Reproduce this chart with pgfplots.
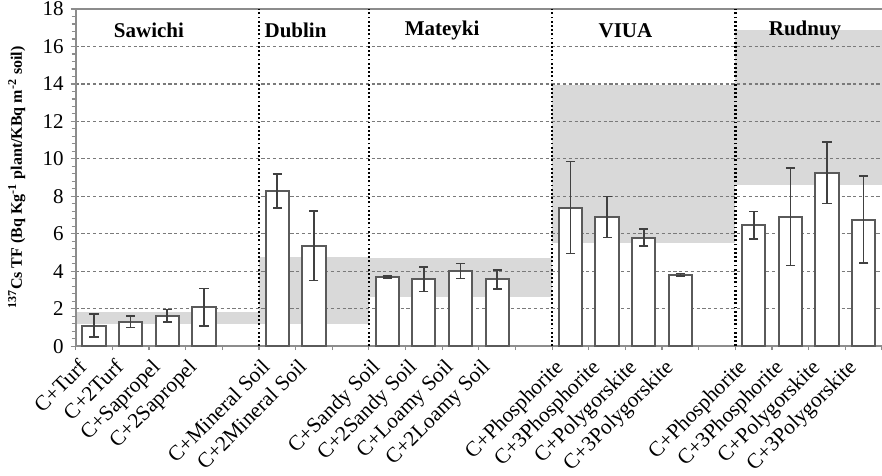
\documentclass[border=0pt]{standalone}
\usepackage{pgfplots}
\pgfplotsset{compat=1.18}
\usepackage{fontspec}
\setmainfont{Liberation Serif}
\definecolor{bandgray}{HTML}{D9D9D9}
\definecolor{gridgray}{HTML}{7A7A7A}
\definecolor{bargray}{HTML}{5A5A5A}
\definecolor{axisgray}{HTML}{8C8C8C}
\begin{document}
\begin{tikzpicture}
\begin{axis}[
  set layers,
  scale only axis,
  width=403pt, height=168.5pt,
  xmin=-0.5, xmax=21.5, ymin=0, ymax=18,
  axis x line*=box, axis y line*=left,
  axis line style={axisgray, line width=1pt},
  xtick={0,1,2,3,5,6,8,9,10,11,13,14,15,16,18,19,20,21},
  xticklabels={C+Turf,C+2Turf,C+Sapropel,C+2Sapropel,C+Mineral Soil,C+2Mineral Soil,C+Sandy Soil,C+2Sandy Soil,C+Loamy Soil,C+2Loamy Soil,C+Phosphorite,C+3Phosphorite,C+Polygorskite,C+3Polygorskite,C+Phosphorite,C+3Phosphorite,C+Polygorskite,C+3Polygorskite},
  minor xtick={-0.5,0.5,...,21.5},
  xtick pos=bottom, ytick pos=left,
  major x tick style={draw=none},
  tick align=outside,
  minor tick length=2pt, major tick length=2.5pt,
  every tick/.style={axisgray, line width=0.6pt},
  x tick label style={xshift=-3pt, yshift=-8.5pt, rotate=45, anchor=base east, font=\fontsize{10.7}{12}\selectfont, inner sep=0pt},
  ytick={0,2,...,18},
  minor y tick num=4,
  y tick label style={font=\fontsize{10.5}{12}\selectfont},
  /pgf/number format/assume math mode=true,
  ymajorgrids,
  major grid style={gridgray, line width=0.6pt, dash pattern=on 1.6pt off 1.3pt},
  ylabel={\textbf{\textsuperscript{137}Cs TF (Bq Kg\textsuperscript{-1} plant/KBq m\textsuperscript{-2} soil)}},
  ylabel style={at={(axis description cs:-0.073,0.5)}, anchor=center, font=\fontsize{8}{10}\selectfont},
  clip=false,
]
% grey bands
\addplot[fill=bandgray, draw=none, on layer=axis background] coordinates {(-0.5,1.2) (4.5,1.2) (4.5,1.8) (-0.5,1.8)} -- cycle;
\addplot[fill=bandgray, draw=none, on layer=axis background] coordinates {(4.5,1.2) (7.5,1.2) (7.5,4.75) (4.5,4.75)} -- cycle;
\addplot[fill=bandgray, draw=none, on layer=axis background] coordinates {(7.5,2.65) (12.5,2.65) (12.5,4.7) (7.5,4.7)} -- cycle;
\addplot[fill=bandgray, draw=none, on layer=axis background] coordinates {(12.5,5.5) (17.5,5.5) (17.5,13.95) (12.5,13.95)} -- cycle;
\addplot[fill=bandgray, draw=none, on layer=axis background] coordinates {(17.5,8.6) (21.5,8.6) (21.5,16.9) (17.5,16.9)} -- cycle;
% bars
\addplot[ybar, bar width=0.635, fill=white, draw=bargray, line width=1pt,
  error bars/.cd, y dir=both, y explicit,
  error bar style={color=black!75, line width=0.8pt},
  error mark options={rotate=90, mark size=2.3pt, line width=0.8pt, black!75}]
  coordinates {
  (0,1.1) +- (0,0.62)
  (1,1.3) +- (0,0.3)
  (2,1.63) +- (0,0.33)
  (3,2.07) +- (0,1.0)
  (5,8.28) +- (0,0.9)
  (6,5.35) +- (0,1.85)
  (8,3.7) +- (0,0.05)
  (9,3.56) +- (0,0.65)
  (10,4.02) +- (0,0.4)
  (11,3.56) +- (0,0.5)
  (13,7.4) +- (0,2.45)
  (14,6.9) +- (0,1.1)
  (15,5.8) +- (0,0.45)
  (16,3.8) +- (0,0.07)
  (18,6.45) +- (0,0.73)
  (19,6.9) +- (0,2.6)
  (20,9.26) +- (0,1.65)
  (21,6.76) +- (0,2.33)
  };
% separators
\addplot[black, line width=1.1pt, dash pattern=on 0.9pt off 1.2pt] coordinates {(4.5,0) (4.5,18)};
\addplot[black, line width=1.1pt, dash pattern=on 0.9pt off 1.2pt] coordinates {(7.5,0) (7.5,18)};
\addplot[black, line width=1.1pt, dash pattern=on 0.9pt off 1.2pt] coordinates {(12.5,0) (12.5,18)};
\addplot[black, line width=1.1pt, dash pattern=on 0.9pt off 1.2pt] coordinates {(17.5,0) (17.5,18)};
% group names
\node[font=\bfseries\fontsize{10.5}{12}\selectfont] at (axis cs:1.5,16.85) {Sawichi};
\node[font=\bfseries\fontsize{10.5}{12}\selectfont] at (axis cs:5.5,16.85) {Dublin};
\node[font=\bfseries\fontsize{10.5}{12}\selectfont] at (axis cs:9.5,16.85) {Mateyki};
\node[font=\bfseries\fontsize{10.5}{12}\selectfont] at (axis cs:14.5,16.85) {VIUA};
\node[font=\bfseries\fontsize{10.5}{12}\selectfont] at (axis cs:19.4,16.85) {Rudnuy};
\end{axis}
\pgfresetboundingbox
\path[use as bounding box] ([xshift=-37.8pt,yshift=-64.5pt]current axis.south west) rectangle ([yshift=4.5pt]current axis.north east);
\end{tikzpicture}
\end{document}
